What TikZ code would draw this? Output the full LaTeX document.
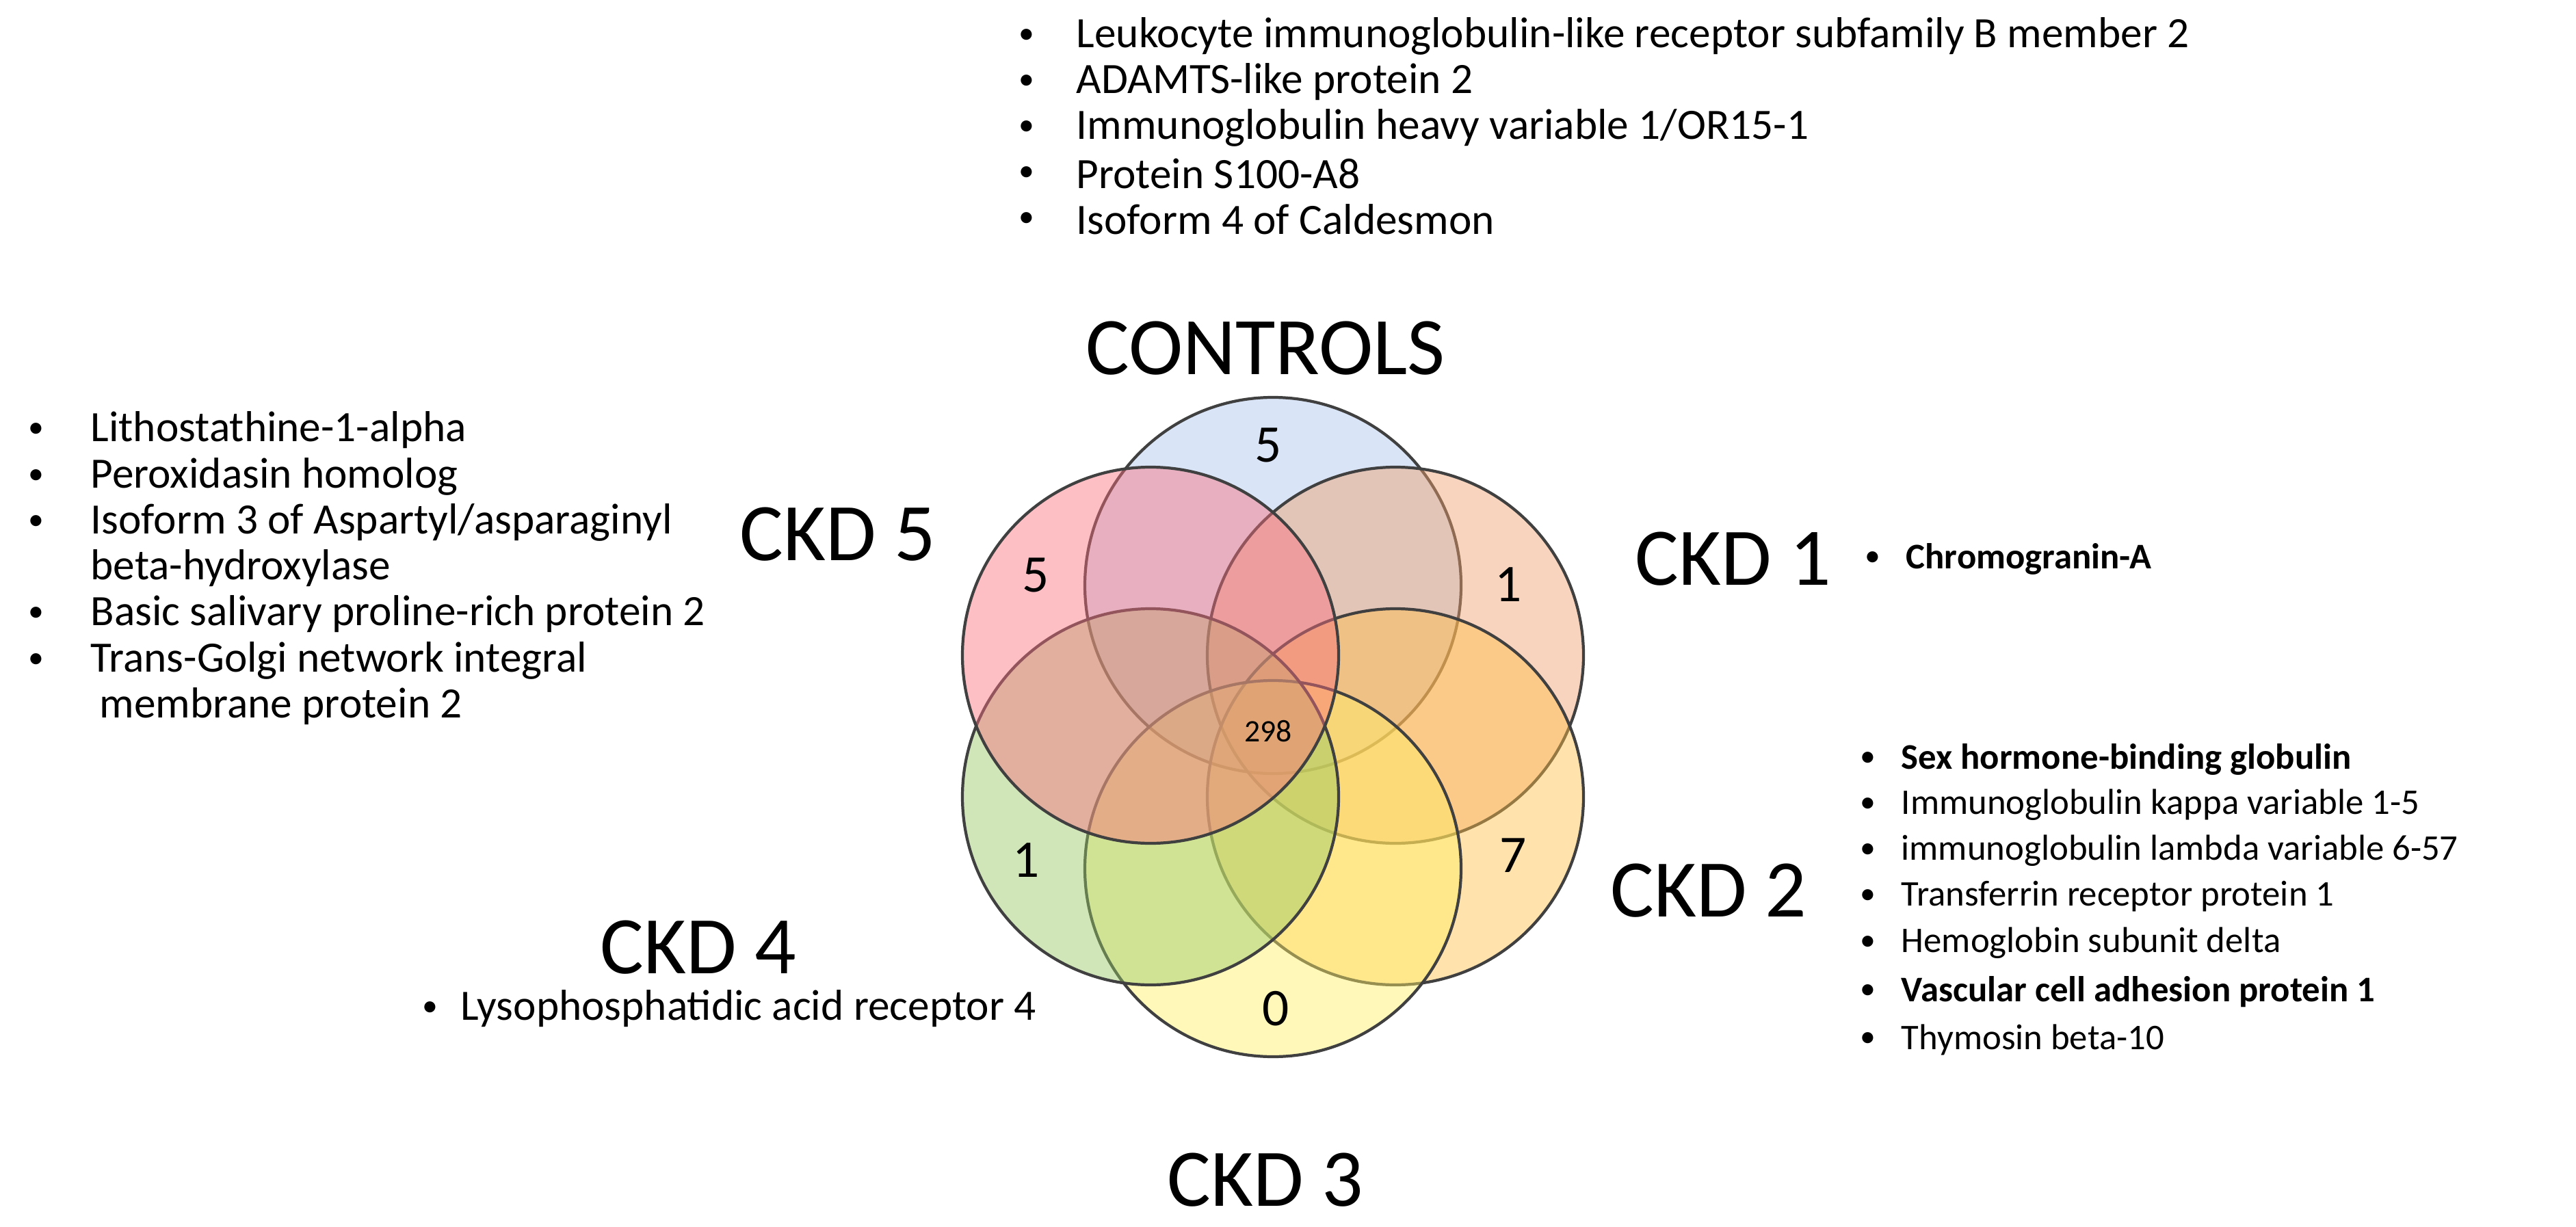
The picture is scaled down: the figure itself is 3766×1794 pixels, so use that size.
\documentclass[tikz,border=0pt]{standalone}
\usepackage{fontspec}
\setmainfont{Carlito}
\begin{document}
\begin{tikzpicture}[x=0.01cm,y=-0.01cm,
  set/.style={draw=black!75,line width=1.2pt,fill opacity=0.45},
  big/.style={font=\fontsize{34}{38}\selectfont,inner sep=0},
  num/.style={font=\fontsize{22}{26}\selectfont,inner sep=0},
  item/.style={font=\fontsize{18}{21}\selectfont,anchor=west,inner sep=0},
  sitem/.style={font=\fontsize{15}{18}\selectfont,anchor=west,inner sep=0},
  bul/.style={font=\fontsize{13}{16}\selectfont,inner sep=0}]
\useasboundingbox (0,0) rectangle (3766,1794);
\definecolor{cblue}{RGB}{170,195,235}
\definecolor{cred}{RGB}{250,110,125}
\definecolor{corange}{RGB}{240,160,110}
\definecolor{cgold}{RGB}{255,190,70}
\definecolor{cgreen}{RGB}{150,200,100}
\definecolor{cyellow}{RGB}{255,240,100}
\path[set,fill=cblue] (1861,856) circle [radius=275];
\path[set,fill=corange] (2040,958) circle [radius=275];
\path[set,fill=cgold] (2040,1165) circle [radius=275];
\path[set,fill=cyellow] (1861,1270) circle [radius=275];
\path[set,fill=cgreen] (1682,1165) circle [radius=275];
\path[set,fill=cred] (1682,958) circle [radius=275];
\node[num] (n1) at (1854,651) {5};
\node[num] (n2) at (1514,841) {5};
\node[num] (n3) at (2205,855) {1};
\node[num,font=\fontsize{13}{15}\selectfont] (n4) at (1854,1069) {298};
\node[num] (n5) at (1500,1258) {1};
\node[num] (n6) at (2212,1251) {7};
\node[num] (n7) at (1865,1475) {0};
\node[big] (lc) at (1850,509) {CONTROLS};
\node[big] (l5) at (1225,781) {CKD 5};
\node[big] (l1) at (2534,817) {CKD 1};
\node[big] (l2) at (2498,1302) {CKD 2};
\node[big] (l4) at (1021,1385) {CKD 4};
\node[big] (l3) at (1850,1725) {CKD 3};
% top list
\foreach \t [count=\i from 0] in {Leukocyte immunoglobulin-like receptor subfamily B member 2,ADAMTS-like protein 2,Immunoglobulin heavy variable 1/OR15-1,Protein S100-A8,Isoform 4 of Caldesmon}{
  \node[bul] (tb\i) at (1501,{53+67*\i}) {•};
  \node[item] (tt\i) at (1573,{53+67*\i}) {\t};}
% left list
\foreach \y/\t [count=\i] in {629/{Lithostathine-1-alpha},697/{Peroxidasin homolog},764/{Isoform 3 of Aspartyl/asparaginyl},898/{Basic salivary proline-rich protein 2},966/{Trans-Golgi network integral}}{
  \node[bul] (lb\i) at (53,\y) {•};
  \node[item] (lt\i) at (132,\y) {\t};}
\node[item] (lt6) at (132,831) {beta-hydroxylase};
\node[item] (lt7) at (145,1033) {membrane protein 2};
% CKD1
\node[bul] (rb0) at (2738,817) {•};
\node[sitem,font=\fontsize{15}{18}\selectfont\bfseries] (rt0) at (2786,817) {Chromogranin-A};
% CKD2 list
\foreach \y/\t/\w [count=\i] in {1110/{Sex hormone-binding globulin}/bfseries,1177/{Immunoglobulin kappa variable 1-5}/mdseries,1244/{immunoglobulin lambda variable 6-57}/mdseries,1311/{Transferrin receptor protein 1}/mdseries,1379/{Hemoglobin subunit delta}/mdseries,1450/{Vascular cell adhesion protein 1}/bfseries,1520/{Thymosin beta-10}/mdseries}{
  \node[bul] (sb\i) at (2731,\y) {•};
  \node[sitem,font=\fontsize{15}{18}\selectfont\csname\w\endcsname] (st\i) at (2779,\y) {\t};}
% CKD4
\node[bul] (fb) at (629,1475) {•};
\node[item] (ft) at (673,1475) {Lysophosphatidic acid receptor 4};
\end{tikzpicture}
\end{document}
